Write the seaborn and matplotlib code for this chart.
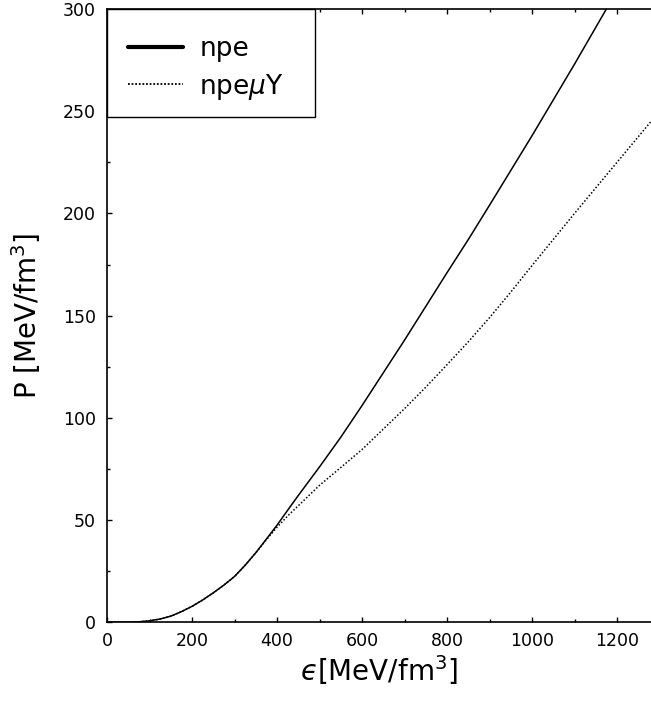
import numpy as np
import pandas as pd
import matplotlib
matplotlib.use("Agg")
import matplotlib.pyplot as plt
from matplotlib.lines import Line2D
from matplotlib.patches import Rectangle
from matplotlib.ticker import MultipleLocator
import seaborn as sns

# Energy density (MeV/fm^3) and pressure (MeV/fm^3)
eps_npe = [0, 25, 50, 75, 100, 125, 150, 175, 200, 225, 250, 275, 300, 325,
           350, 375, 400, 425, 450, 475, 500, 550, 600, 650, 700, 750, 800,
           850, 900, 1000, 1100, 1175]
p_npe = [0, 0, 0.05, 0.25, 0.7, 1.6, 3.0, 5.2, 7.8, 10.9, 14.4, 18.2, 22.4,
         27.9, 34.0, 40.7, 47.5, 54.8, 62.0, 69.0, 76.0, 90.5, 106.0, 122.0,
         138.0, 154.5, 171.0, 187.2, 204.0, 238.0, 273.0, 300.0]

eps_npemuY = [0, 25, 50, 75, 100, 125, 150, 175, 200, 225, 250, 275, 300, 325,
              350, 375, 400, 425, 450, 475, 500, 550, 600, 650, 700, 750, 800,
              850, 900, 950, 1000, 1100, 1200, 1280]
p_npemuY = [0, 0, 0.05, 0.25, 0.7, 1.6, 3.0, 5.2, 7.8, 10.9, 14.4, 18.2, 22.4,
            27.9, 34.0, 40.4, 46.5, 52.0, 57.0, 62.0, 67.0, 75.7, 84.5, 94.5,
            104.5, 115.0, 126.0, 137.2, 149.0, 161.5, 174.5, 200.0, 225.0,
            245.0]

labels = ["npe", r"npe$\mu$Y"]

sns.set_style("ticks")
plt.rcParams["font.family"] = ["DejaVu Sans"]
plt.rcParams["mathtext.fontset"] = "dejavusans"
plt.rcParams["text.color"] = "black"
plt.rcParams["axes.labelcolor"] = "black"

fig = plt.figure(figsize=(6.51, 7.03), dpi=100)
ax = fig.add_axes([107 / 651, 1 - 622.3 / 703, (651 - 107) / 651, (622.3 - 9) / 703])

df1 = pd.DataFrame({"eps": eps_npe, "P": p_npe})
df2 = pd.DataFrame({"eps": eps_npemuY, "P": p_npemuY})
sns.lineplot(data=df1, x="eps", y="P", ax=ax, color="black", lw=1.1, sort=False)
sns.lineplot(data=df2, x="eps", y="P", ax=ax, color="black", lw=1.1,
             linestyle=(0, (1, 1.3)), sort=False)

ax.set_xlim(0, 1280)
ax.set_ylim(0, 300)
ax.xaxis.set_major_locator(MultipleLocator(200))
ax.xaxis.set_minor_locator(MultipleLocator(100))
ax.yaxis.set_major_locator(MultipleLocator(50))
ax.yaxis.set_minor_locator(MultipleLocator(25))
ax.tick_params(which="both", direction="in", top=True, right=False,
               labelsize=12.5, width=1.0, colors="black")
ax.tick_params(which="major", length=3.5)
ax.tick_params(which="minor", length=2)
ax.tick_params(axis="x", pad=7)
ax.tick_params(axis="y", pad=8)
for s in ["left", "bottom", "top"]:
    ax.spines[s].set_linewidth(1.2)
    ax.spines[s].set_color("black")
ax.spines["right"].set_visible(False)

ax.set_xlabel("$\u03f5$[MeV/fm$^3$]", fontsize=20, labelpad=2)
ax.set_ylabel(r"P [MeV/fm$^3$]", fontsize=20, labelpad=14)

# legend frame
ax.add_patch(Rectangle((0, 1 - (117 - 9) / 613.3), (315 - 107) / 544,
                       (117 - 9) / 613.3, transform=ax.transAxes,
                       facecolor="white", edgecolor="black", lw=1.0,
                       zorder=4, clip_on=False))

handles = [Line2D([], [], color="black", lw=3),
           Line2D([], [], color="black", lw=1.3, linestyle=(0, (1, 1)))]
leg = ax.legend(handles=handles, labels=labels, loc="upper left",
                bbox_to_anchor=((128 - 107) / 544, 1 - (36 - 9) / 613.3),
                borderaxespad=0, frameon=False, fontsize=19,
                handlelength=2.1, handletextpad=0.6, borderpad=0,
                labelspacing=0.36)
leg.set_zorder(5)

fig.savefig("out.png", dpi=100)
